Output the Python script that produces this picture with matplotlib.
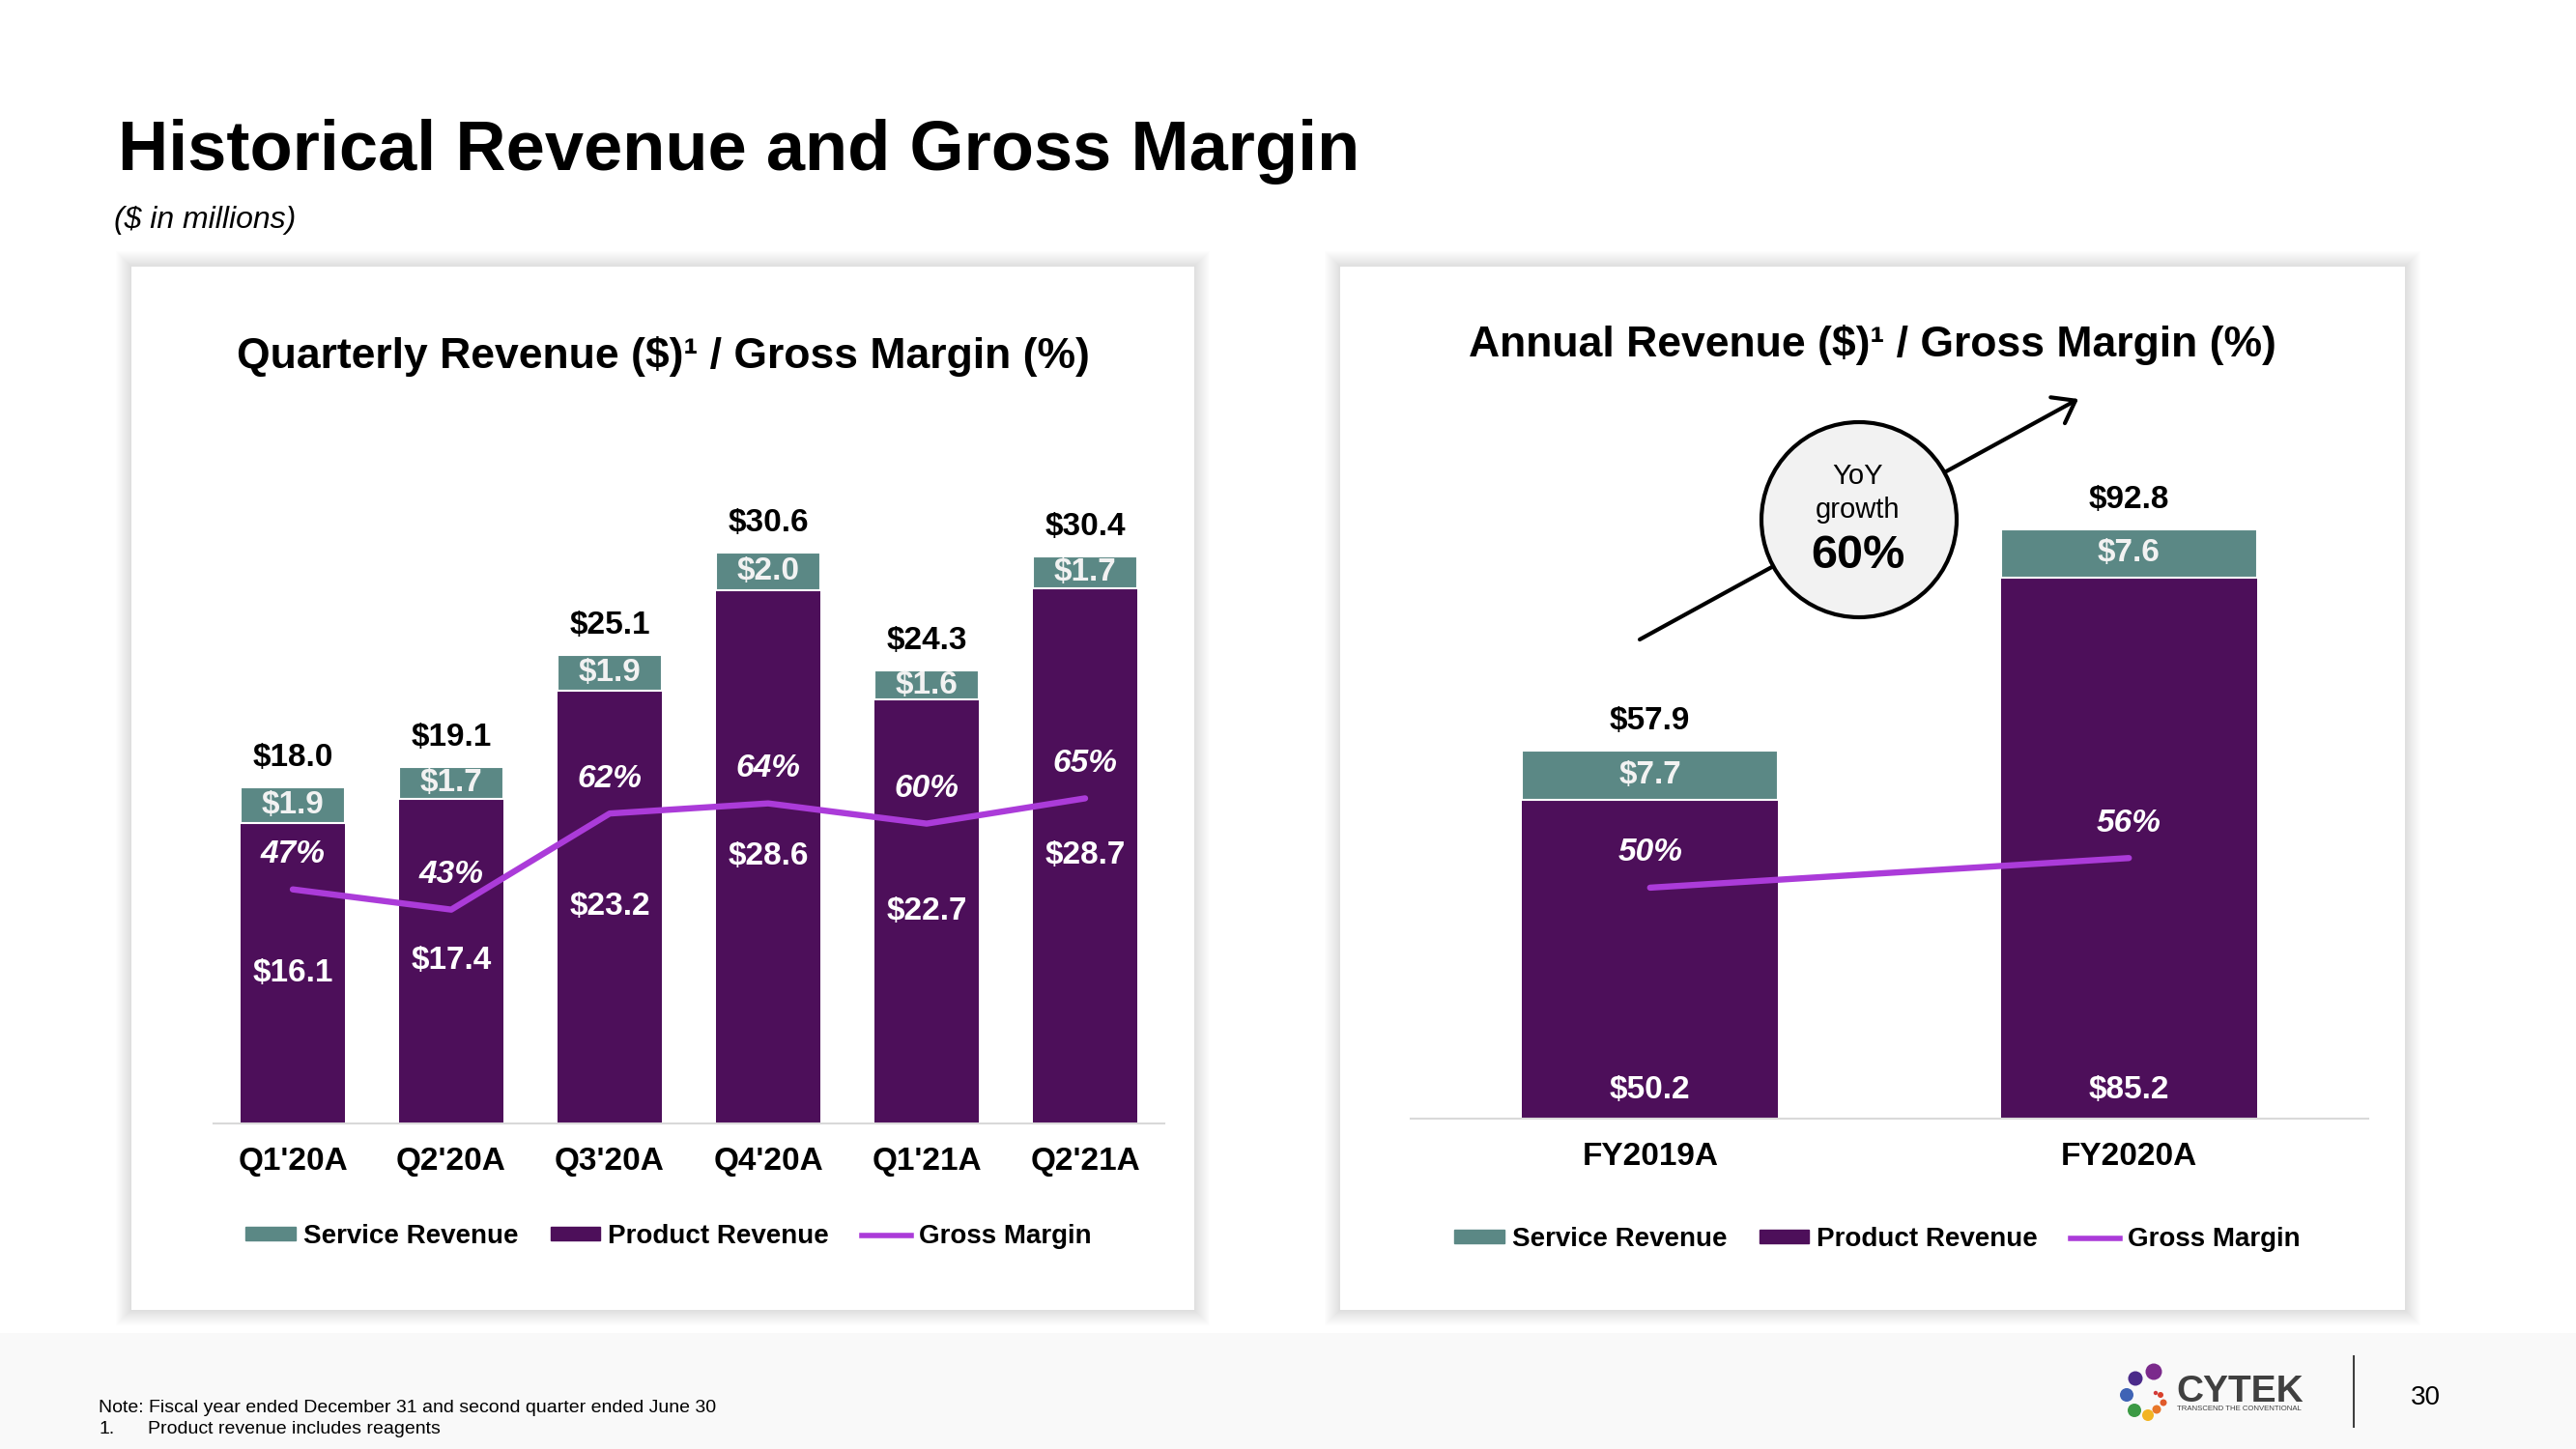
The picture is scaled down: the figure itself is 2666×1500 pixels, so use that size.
import matplotlib.pyplot as plt
import numpy as np
from matplotlib.patches import Rectangle, Circle, Patch
from matplotlib.lines import Line2D

plt.rcParams['font.family'] = ['Liberation Sans', 'DejaVu Sans']

W, H = 2666, 1500

# quarterly data ($M, %)
quarters = ["Q1'20A", "Q2'20A", "Q3'20A", "Q4'20A", "Q1'21A", "Q2'21A"]
q_product = [16.1, 17.4, 23.2, 28.6, 22.7, 28.7]
q_service = [1.9, 1.7, 1.9, 2.0, 1.6, 1.7]
q_total = [18.0, 19.1, 25.1, 30.6, 24.3, 30.4]
q_margin = [47, 43, 62, 64, 60, 65]

# annual data
years = ["FY2019A", "FY2020A"]
y_product = [50.2, 85.2]
y_service = [7.7, 7.6]
y_total = [57.9, 92.8]
y_margin = [50, 56]
yoy_growth = 60

legend_labels = ["Service Revenue", "Product Revenue", "Gross Margin"]

SERVICE = '#5b8885'
PRODUCT = '#4d0f5a'
MARGIN = '#ab3bd9'


def fig_box(x0, y0, x1, y1):
    # pixel box (top-left origin) -> figure fraction
    return [x0 / W, 1 - y1 / H, (x1 - x0) / W, (y1 - y0) / H]


def draw_chart(fig, box, cats, product, service, total, margin, width,
               ylim, mlim, product_at_bottom, legend_xy):
    ax = fig.add_axes(fig_box(*box), zorder=2)
    ax.patch.set_alpha(0)
    x = np.arange(len(cats))
    ax.bar(x, product, width, color=PRODUCT, linewidth=0)
    ax.bar(x, service, width, bottom=product, color=SERVICE,
           edgecolor='white', linewidth=1.5)
    ax.set_xlim(-0.5, len(cats) - 0.5)
    ax.set_ylim(*ylim)
    for s in ['left', 'right', 'top']:
        ax.spines[s].set_visible(False)
    ax.spines['bottom'].set_color('#d9d9d9')
    ax.spines['bottom'].set_linewidth(1.5)
    ax.set_xticks([])
    ax.set_yticks([])

    for i in range(len(cats)):
        ax.annotate(f"${total[i]:.1f}", (x[i], total[i]), xytext=(0, 22),
                    textcoords='offset points', ha='center', va='center',
                    fontsize=24, fontweight='bold')
        ax.text(x[i], product[i] + service[i] / 2, f"${service[i]:.1f}",
                ha='center', va='center', fontsize=24, fontweight='bold',
                color='#f2f2f2')
        if product_at_bottom:
            ax.annotate(f"${product[i]:.1f}", (x[i], 0), xytext=(0, 21),
                        textcoords='offset points', ha='center', va='center',
                        fontsize=24, fontweight='bold', color='white')
        else:
            ax.text(x[i], product[i] / 2, f"${product[i]:.1f}",
                    ha='center', va='center', fontsize=24, fontweight='bold',
                    color='white')
        ax.annotate(cats[i], (x[i], 0), xytext=(0, -29),
                    textcoords='offset points', ha='center', va='center',
                    fontsize=24, fontweight='bold', annotation_clip=False)

    ax2 = ax.twinx()
    ax2.set_ylim(*mlim)
    ax2.plot(x, margin, color=MARGIN, lw=4.6, solid_capstyle='round')
    ax2.axis('off')
    for i in range(len(cats)):
        ax2.annotate(f"{margin[i]}%", (x[i], margin[i]), xytext=(0, 26),
                     textcoords='offset points', ha='center', va='center',
                     fontsize=24, fontweight='bold', style='italic',
                     color='white')

    handles = [Patch(color=SERVICE), Patch(color=PRODUCT),
               Line2D([], [], color=MARGIN, lw=4)]
    fig.legend(handles, legend_labels, loc='center',
               bbox_to_anchor=(legend_xy[0] / W, 1 - legend_xy[1] / H),
               ncol=3, frameon=False, prop={'weight': 'bold', 'size': 20},
               handlelength=1.85, handleheight=0.4, handletextpad=0.3,
               columnspacing=1.2)
    return ax


fig = plt.figure(figsize=(W / 100, H / 100), dpi=100, facecolor='white')

bg = fig.add_axes([0, 0, 1, 1], zorder=0)
bg.set_xlim(0, W)
bg.set_ylim(H, 0)
bg.axis('off')

# footer band
bg.add_patch(Rectangle((0, 1380), W, 120, facecolor='#f9f9f9', lw=0))

# panels with soft shadow
for (px0, py0, px1, py1) in [(136, 276, 1236, 1356), (1387, 276, 2489, 1356)]:
    for k in range(16, 0, -1):
        bg.add_patch(Rectangle((px0 - k, py0 - k), px1 - px0 + 2 * k,
                               py1 - py0 + 2 * k, facecolor='black',
                               alpha=0.008, lw=0))
    bg.add_patch(Rectangle((px0, py0), px1 - px0, py1 - py0,
                           facecolor='white', lw=0))

# titles
bg.text(122, 176, "Historical Revenue and Gross Margin", fontsize=52,
        fontweight='bold', va='baseline')
bg.text(118, 236, "($ in millions)", fontsize=23, style='italic',
        va='baseline')
bg.text(686, 369, "Quarterly Revenue ($)\u00b9 / Gross Margin (%)",
        fontsize=32, fontweight='bold', ha='center', va='center')
bg.text(1938, 357, "Annual Revenue ($)\u00b9 / Gross Margin (%)",
        fontsize=32, fontweight='bold', ha='center', va='center')

# charts
draw_chart(fig, (221, 440, 1205, 1162.6), quarters, q_product, q_service,
           q_total, q_margin, 0.657, (0, 37.44), (0.8, 138.8), False,
           (692, 1280))
draw_chart(fig, (1460, 440, 2451, 1157.6), years, y_product, y_service,
           y_total, y_margin, 0.534, (0, 109.2), (3.3, 143.7), True,
           (1943, 1283))

# growth arrow + bubble
ov = fig.add_axes([0, 0, 1, 1], zorder=3)
ov.set_xlim(0, W)
ov.set_ylim(H, 0)
ov.axis('off')
ov.annotate('', xy=(2151, 413), xytext=(1697, 662),
            arrowprops=dict(arrowstyle='->,head_length=1.5,head_width=1.1',
                            lw=3, color='black', shrinkA=0, shrinkB=0))
ov.add_patch(Circle((1924, 538), 101, facecolor='#f2f2f2',
                    edgecolor='black', lw=3, zorder=5))
ov.text(1923, 493, "YoY", fontsize=21, ha='center', va='center', zorder=6)
ov.text(1923, 528, "growth", fontsize=21, ha='center', va='center', zorder=6)
ov.text(1923, 575, f"{yoy_growth}%", fontsize=35, fontweight='bold',
        ha='center', va='center', zorder=6)

# footnotes
bg.text(102, 1457, "Note: Fiscal year ended December 31 and second quarter ended June 30",
        fontsize=14, va='center')
bg.text(102, 1479, "1.", fontsize=14, va='center')
bg.text(153, 1479, "Product revenue includes reagents", fontsize=14,
        va='center')

# logo
dots = [(2229, 1420, 8.5, '#7b2a8c'), (2210, 1427, 7.5, '#4b2a8a'),
        (2201, 1444, 7, '#3f63b5'), (2209, 1460, 7, '#3c9a45'),
        (2223, 1465, 6, '#f2b422'), (2232, 1459, 4.5, '#e8772a'),
        (2239, 1452, 3.5, '#e05a2b'), (2236, 1444, 3, '#d9402b'),
        (2231, 1442, 2.2, '#d23a3a')]
for dx, dy, r, c in dots:
    bg.add_patch(Circle((dx, dy), r, facecolor=c, lw=0))
bg.text(2252, 1441, "CYTEK", fontsize=28, fontweight='bold', color='#404040',
        va='center')
bg.text(2253, 1459, "TRANSCEND THE CONVENTIONAL", fontsize=5.6,
        color='#404040', va='center')
bg.plot([2436, 2436], [1404, 1477], color='#404040', lw=1.5)
bg.text(2510, 1447, "30", fontsize=20, ha='center', va='center')

fig.savefig('out.png', dpi=100, facecolor='white')
